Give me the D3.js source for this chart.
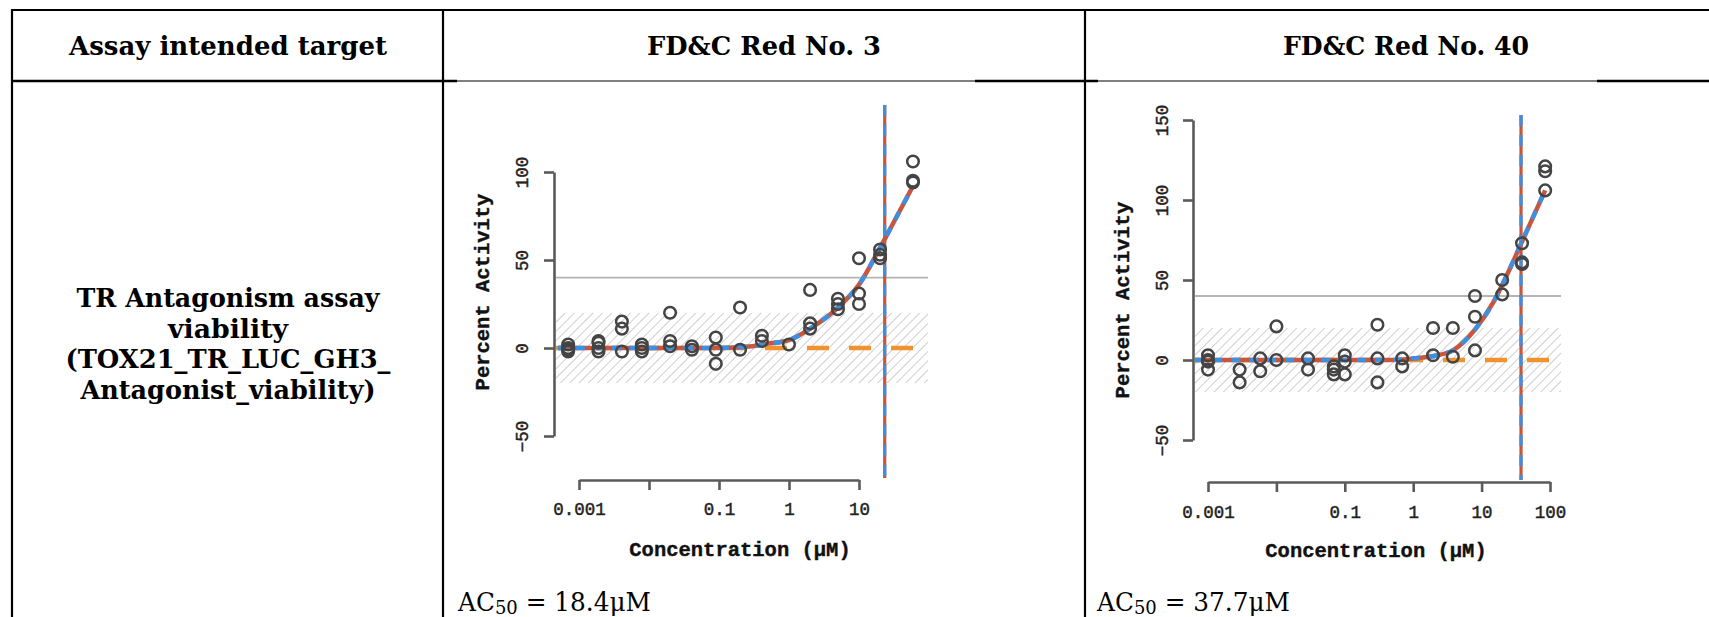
<!DOCTYPE html>
<html>
<head>
<meta charset="utf-8">
<script src="https://cdn.jsdelivr.net/npm/d3@7"></script>
<style>
  body { margin: 0; background: #fff; }
</style>
</head>
<body>
<svg id="chart" width="1709" height="617"></svg>
<script>
// table text
const headers = ["Assay intended target", "FD&C Red No. 3", "FD&C Red No. 40"];
const rowLabel = ["TR Antagonism assay", "viability", "(TOX21_TR_LUC_GH3_", "Antagonist_viability)"];
const ac50Values = ["18.4", "37.7"];

// shared reference levels (percent activity)
const bandLo = -20, bandHi = 20, cutoff = 40;

// FD&C Red No. 3
const red3Doses = [0.0007, 0.0019, 0.0041, 0.0079, 0.02, 0.041, 0.09, 0.2, 0.41, 1, 2, 5, 10, 20, 59];
const red3Resp = [[2, 0, -1, -2], [4, 3, 0, -2], [15, 11, -2], [2, 0, -2], [20, 4, 1], [1, -1],
  [6, -1, -9], [23, -1], [7, 4], [2], [33, 14, 11], [28, 25, 22], [51, 31, 25], [56, 53, 51], [106, 95, 94]];
const red3CurveConc = [0.0005, 0.1, 0.3, 0.5, 1, 2, 5, 10, 20, 30, 59];
const red3CurveResp = [0, 0, 1, 2.5, 4.5, 11, 23, 36, 57, 70, 92];
const red3Ac50Line = 23.3;
const red3YTicks = [-50, 0, 50, 100];
const red3XTicks = [0.001, 0.01, 0.1, 1, 10];
const red3XLabels = ["0.001", "", "0.1", "1", "10"];

// FD&C Red No. 40
const red40Doses = [0.001, 0.0029, 0.0058, 0.01, 0.029, 0.069, 0.1, 0.3, 0.69, 1.95, 3.8, 8, 20, 39, 85];
const red40Resp = [[3, 0, -1, -6], [-6, -14], [1, -7], [21, 0], [1, -6], [-4, -6, -9], [3, -1, -9],
  [22, 1, -14], [1, -4], [20, 3], [20, 2], [40, 27, 6], [50, 41], [73, 61, 60], [121, 118, 106]];
const red40CurveConc = [0.00065, 0.5, 1, 2, 3.8, 8, 14.8, 26.5, 39, 85];
const red40CurveResp = [0, 0, 1, 2.5, 6, 19, 36, 58, 74, 106];
const red40Ac50Line = 37.7;
const red40YTicks = [-50, 0, 50, 100, 150];
const red40XTicks = [0.001, 0.01, 0.1, 1, 10, 100];
const red40XLabels = ["0.001", "", "0.1", "1", "10", "100"];

const RED = "#c8553d", BLUE = "#3f8fe0", ORANGE = "#f0922e", PT = "#444", AXIS = "#5a5a5a";

const svg = d3.select("#chart");

const defs = svg.append("defs");
defs.append("pattern")
  .attr("id", "hatch")
  .attr("patternUnits", "userSpaceOnUse")
  .attr("width", 6.6).attr("height", 6.6)
  .attr("patternTransform", "rotate(45)")
  .append("line")
    .attr("x1", 0).attr("y1", 0).attr("x2", 0).attr("y2", 6.6)
    .attr("stroke", "#a8a8a8").attr("stroke-width", 1.1);

// ---- table frame
const frame = svg.append("g").attr("stroke", "#000").attr("fill", "none");
frame.append("line").attr("x1", 12).attr("x2", 1709).attr("y1", 10).attr("y2", 10).attr("stroke-width", 2.2);
[12, 443, 1085].forEach(xx => {
  frame.append("line").attr("x1", xx).attr("x2", xx).attr("y1", 9).attr("y2", 617).attr("stroke-width", 2.2);
});
// header bottom rule: thick and thin pieces
[[12, 457, 2.4], [457, 975, 1.2], [975, 1098, 2.4], [1098, 1597, 1.2], [1597, 1709, 2.4]].forEach(s => {
  frame.append("line").attr("x1", s[0]).attr("x2", s[1]).attr("y1", 81).attr("y2", 81).attr("stroke-width", s[2]);
});

const serif = "'DejaVu Serif', 'Liberation Serif', serif";
const headX = [228, 764, 1406];
const headW = [318, 234, 246];
headers.forEach((t, i) => {
  svg.append("text")
    .attr("x", headX[i]).attr("y", 55)
    .attr("text-anchor", "middle")
    .attr("font-family", serif).attr("font-weight", "bold").attr("font-size", 25.5)
    .attr("textLength", headW[i]).attr("lengthAdjust", "spacingAndGlyphs")
    .text(t);
});

const rowW = [303, 120, 325, 295];
rowLabel.forEach((t, i) => {
  svg.append("text")
    .attr("x", 228).attr("y", 307 + i * 30.5)
    .attr("text-anchor", "middle")
    .attr("font-family", serif).attr("font-weight", "bold").attr("font-size", 25.5)
    .attr("textLength", rowW[i]).attr("lengthAdjust", "spacingAndGlyphs")
    .text(t);
});

const acX = [458, 1097];
ac50Values.forEach((v, i) => {
  const t = svg.append("text")
    .attr("x", acX[i]).attr("y", 611)
    .attr("font-family", serif).attr("font-size", 25.5)
    .attr("textLength", 193).attr("lengthAdjust", "spacingAndGlyphs");
  t.append("tspan").text("AC");
  t.append("tspan").attr("font-size", 18.5).attr("dy", 3).text("50");
  t.append("tspan").attr("dy", -3).text(" = " + v + "\u03bcM");
});

// ---- dose-response panels
const mono = "'Liberation Mono', 'DejaVu Sans Mono', monospace";

function drawPanel(p) {
  const x = d3.scaleLog()
    .domain([p.xTicks[0], p.xTicks[p.xTicks.length - 1]])
    .range(p.xRange);
  const y = d3.scaleLinear()
    .domain([p.yTicks[0], p.yTicks[p.yTicks.length - 1]])
    .range(p.yRange);

  const g = svg.append("g");

  g.append("rect")
    .attr("x", p.left).attr("width", p.right - p.left)
    .attr("y", y(bandHi)).attr("height", y(bandLo) - y(bandHi))
    .attr("fill", "url(#hatch)");

  g.append("line")
    .attr("x1", p.left).attr("x2", p.right)
    .attr("y1", y(cutoff)).attr("y2", y(cutoff))
    .attr("stroke", "#b4b4b4").attr("stroke-width", 1.8);

  g.append("line")
    .attr("x1", p.left).attr("x2", p.right)
    .attr("y1", y(0)).attr("y2", y(0))
    .attr("stroke", ORANGE).attr("stroke-width", 4.5)
    .attr("stroke-dasharray", "22,20").attr("stroke-dashoffset", p.dashShift);

  const line = d3.line()
    .x(d => x(d[0]))
    .y(d => y(d[1]))
    .curve(d3.curveMonotoneX);
  const curve = d3.zip(p.curveConc, p.curveResp);
  g.append("path").attr("d", line(curve))
    .attr("fill", "none").attr("stroke", RED).attr("stroke-width", 4.5);
  g.append("path").attr("d", line(curve))
    .attr("fill", "none").attr("stroke", BLUE).attr("stroke-width", 4.5)
    .attr("stroke-dasharray", "9,9");

  g.append("line")
    .attr("x1", x(p.ac50)).attr("x2", x(p.ac50))
    .attr("y1", p.vTop).attr("y2", p.vBottom)
    .attr("stroke", RED).attr("stroke-width", 3.2);
  g.append("line")
    .attr("x1", x(p.ac50)).attr("x2", x(p.ac50))
    .attr("y1", p.vTop).attr("y2", p.vBottom)
    .attr("stroke", BLUE).attr("stroke-width", 3.2)
    .attr("stroke-dasharray", "11,9");

  // axes, R style: rotated y labels, line only between end ticks
  const yAxis = g.append("g")
    .attr("transform", `translate(${p.yAxisX},0)`)
    .call(d3.axisLeft(y).tickValues(p.yTicks).tickSize(10).tickSizeOuter(0).tickFormat(d => d < 0 ? "\u221250" : d));
  yAxis.selectAll("text")
    .attr("transform", "rotate(-90)")
    .attr("x", 0).attr("y", -p.yLabelOff).attr("dy", 0)
    .attr("text-anchor", "middle");

  const xAxis = g.append("g")
    .attr("transform", `translate(0,${p.xAxisY})`)
    .call(d3.axisBottom(x).tickValues(p.xTicks).tickSize(10).tickSizeOuter(0).tickFormat((d, i) => p.xLabels[i]));
  xAxis.selectAll("text").attr("y", p.xLabelOff).attr("dy", 0);

  [yAxis, xAxis].forEach(a => {
    a.attr("font-family", mono).attr("font-size", 17.5);
    a.selectAll("text").attr("fill", "#222").attr("stroke", "#222").attr("stroke-width", 0.45);
    a.selectAll("path, line").attr("stroke", AXIS).attr("stroke-width", 2.6);
  });

  g.append("text")
    .attr("x", (p.xRange[0] + p.xRange[1]) / 2 + p.xTitleShift).attr("y", p.xTitleY)
    .attr("text-anchor", "middle")
    .attr("font-family", mono).attr("font-weight", "bold").attr("font-size", 20.5)
    .attr("fill", "#111").attr("stroke", "#111").attr("stroke-width", 0.4)
    .text("Concentration (\u03bcM)");

  g.append("text")
    .attr("transform", `translate(${p.yTitleX},${p.yTitleY}) rotate(-90)`)
    .attr("text-anchor", "middle")
    .attr("font-family", mono).attr("font-weight", "bold").attr("font-size", 20.5)
    .attr("fill", "#111").attr("stroke", "#111").attr("stroke-width", 0.4)
    .text("Percent Activity");

  const pts = [];
  p.doses.forEach((c, i) => p.resp[i].forEach(r => pts.push([c, r])));
  g.selectAll("circle.pt")
    .data(pts)
    .enter().append("circle")
      .attr("class", "pt")
      .attr("cx", d => x(d[0]))
      .attr("cy", d => y(d[1]))
      .attr("r", 5.8)
      .attr("fill", "none")
      .attr("stroke", PT)
      .attr("stroke-width", 2.5);
}

drawPanel({
  doses: red3Doses, resp: red3Resp,
  curveConc: red3CurveConc, curveResp: red3CurveResp, ac50: red3Ac50Line,
  xTicks: red3XTicks, xLabels: red3XLabels, yTicks: red3YTicks,
  xRange: [579, 859], yRange: [436, 172],
  left: 556, right: 928, yAxisX: 554, xAxisY: 480,
  vTop: 105, vBottom: 478, dashShift: 1,
  yLabelOff: 26, xLabelOff: 35,
  xTitleShift: 21, xTitleY: 556, yTitleX: 489, yTitleY: 292
});

drawPanel({
  doses: red40Doses, resp: red40Resp,
  curveConc: red40CurveConc, curveResp: red40CurveResp, ac50: red40Ac50Line,
  xTicks: red40XTicks, xLabels: red40XLabels, yTicks: red40YTicks,
  xRange: [1208, 1550], yRange: [440, 120],
  left: 1195, right: 1561, yAxisX: 1193, xAxisY: 482,
  vTop: 115, vBottom: 480, dashShift: 4,
  yLabelOff: 25, xLabelOff: 36,
  xTitleShift: -3, xTitleY: 557, yTitleX: 1129, yTitleY: 300
});
</script>
</body>
</html>
